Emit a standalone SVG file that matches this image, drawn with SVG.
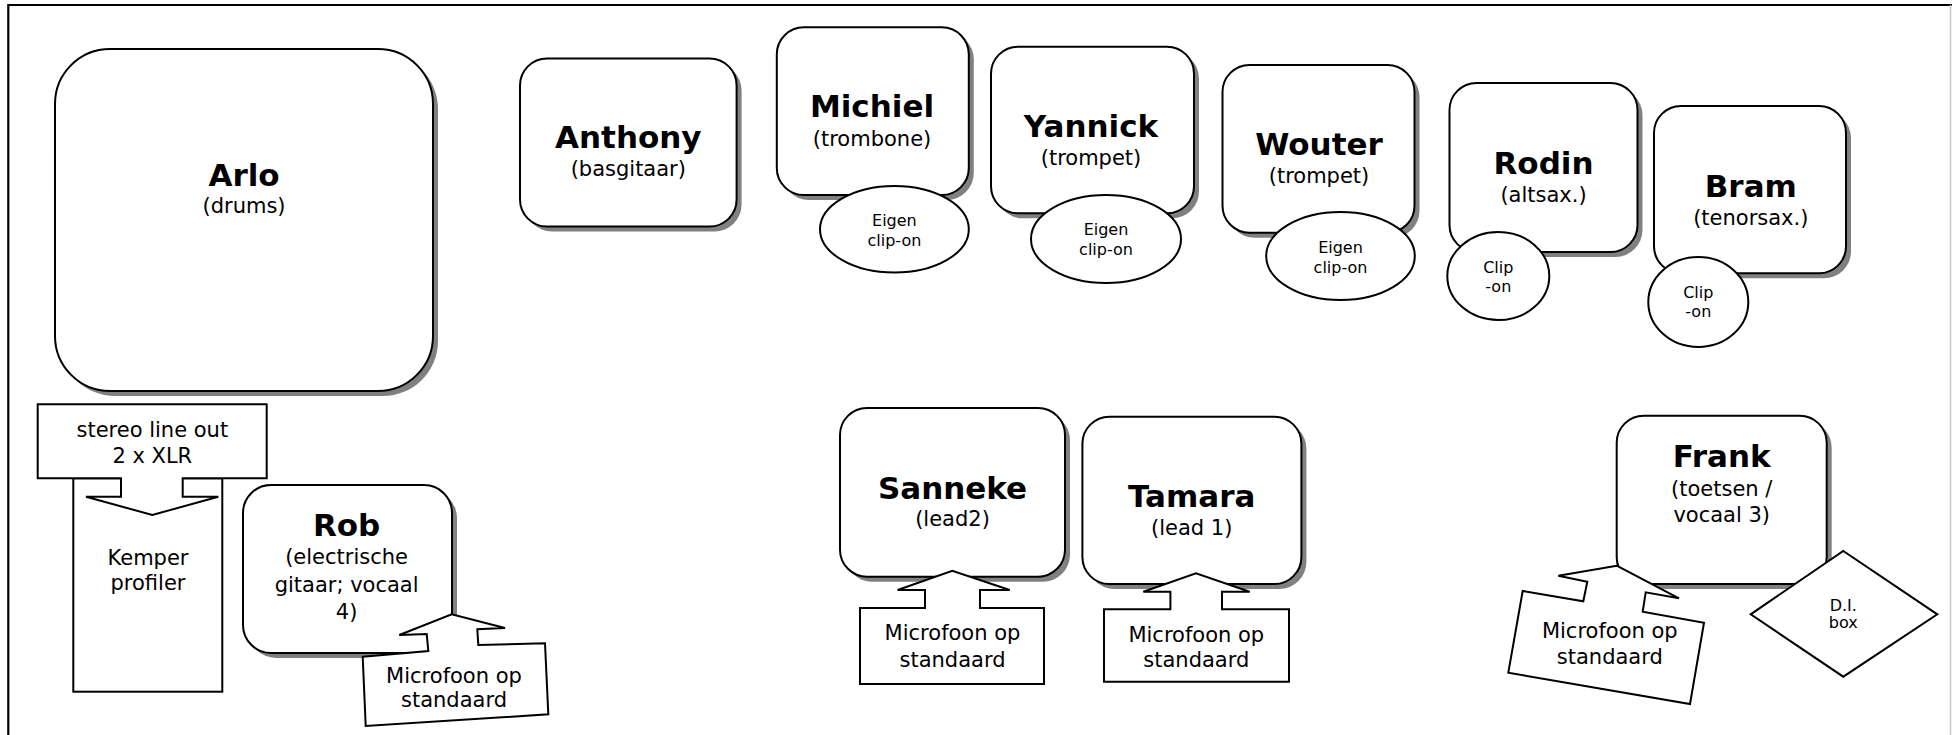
<svg xmlns="http://www.w3.org/2000/svg" width="1952" height="735" viewBox="0 0 1952 735">
<style>
.box{fill:#fff;stroke:#000;stroke-width:2}
.sh{fill:#808080}
.co{fill:#fff;stroke:#000;stroke-width:2;stroke-linejoin:miter}
.nm{font-family:"DejaVu Sans",Verdana,sans-serif;font-weight:bold;font-size:31px;text-anchor:middle;fill:#000}
.rg{font-family:"DejaVu Sans",Verdana,sans-serif;font-size:21px;text-anchor:middle;fill:#000}
.sm{font-family:"DejaVu Sans",Verdana,sans-serif;font-size:16px;text-anchor:middle;fill:#000}
</style>
<rect width="1952" height="735" fill="#fff"/>
<g id="frame">
<path d="M8.3 740 V5 H1952" fill="none" stroke="#000" stroke-width="2.2"/>
<line x1="1950.5" y1="5" x2="1950.5" y2="735" stroke="#c8c8c8" stroke-width="1.5"/>
</g>
<g id="connectors"/>

<g id="arlo">
<rect class="sh" x="60" y="54" width="378" height="342" rx="55"/>
<rect class="box" x="55" y="49" width="378" height="342" rx="55"/>
<text class="nm" x="244" y="186">Arlo</text>
<text class="rg" x="244" y="213">(drums)</text>
</g>

<g id="kemper">
<rect class="box" x="73.3" y="478.3" width="149" height="213.4"/>
<text class="rg" x="148" y="565">Kemper</text>
<text class="rg" x="148" y="590">profiler</text>
</g>
<g id="stereo-out">
<polygon class="co" points="37.7,404.3 266.7,404.3 266.7,478.3 182.7,478.3 182.7,496.7 218.3,496.7 152.3,515 86,496.7 121,496.7 121,478.3 37.7,478.3"/>
<text class="rg" x="152.3" y="436.7">stereo line out</text>
<text class="rg" x="152.3" y="463.3">2 x XLR</text>
</g>

<g id="rob">
<rect class="sh" x="248" y="490" width="209" height="168" rx="28"/>
<rect class="box" x="243" y="485" width="209" height="168" rx="28"/>
<text class="nm" x="346.6" y="536">Rob</text>
<text class="rg" x="346.6" y="564">(electrische</text>
<text class="rg" x="346.6" y="591.5">gitaar; vocaal</text>
<text class="rg" x="346.6" y="619">4)</text>
</g>
<g id="rob-mic">
<polygon class="co" points="362.7,656.7 428.3,651 426.7,634 399.3,635 451.7,614.3 505,628 477.3,629.3 478.3,645 545,643.3 548.3,714.3 365.7,726"/>
<text class="rg" x="454" y="683.3">Microfoon op</text>
<text class="rg" x="454" y="707">standaard</text>
</g>

<g id="anthony">
<rect class="sh" x="525" y="63.5" width="216.6" height="168" rx="27"/>
<rect class="box" x="520" y="58.5" width="216.6" height="168" rx="27"/>
<text class="nm" x="628.3" y="147.7">Anthony</text>
<text class="rg" x="628.3" y="175.7">(basgitaar)</text>
</g>

<g id="michiel">
<rect class="sh" x="781.8" y="32.3" width="192" height="167.7" rx="27"/>
<rect class="box" x="776.8" y="27.3" width="192" height="167.7" rx="27"/>
<text class="nm" x="872" y="117.3">Michiel</text>
<text class="rg" x="872" y="146">(trombone)</text>
</g>
<g id="michiel-clip">
<ellipse class="box" cx="894.4" cy="229.3" rx="74.4" ry="43.3"/>
<text class="sm" x="894.4" y="226">Eigen</text>
<text class="sm" x="894.4" y="245.5">clip-on</text>
</g>

<g id="yannick">
<rect class="sh" x="996" y="51.7" width="203" height="166.6" rx="27"/>
<rect class="box" x="991" y="46.7" width="203" height="166.6" rx="27"/>
<text class="nm" x="1091" y="136.7">Yannick</text>
<text class="rg" x="1091" y="165">(trompet)</text>
</g>
<g id="yannick-clip">
<ellipse class="box" cx="1106" cy="239" rx="75" ry="44"/>
<text class="sm" x="1106" y="235">Eigen</text>
<text class="sm" x="1106" y="254.5">clip-on</text>
</g>

<g id="wouter">
<rect class="sh" x="1227.5" y="70" width="192" height="167.7" rx="27"/>
<rect class="box" x="1222.5" y="65" width="192" height="167.7" rx="27"/>
<text class="nm" x="1319" y="155">Wouter</text>
<text class="rg" x="1319" y="183.3">(trompet)</text>
</g>
<g id="wouter-clip">
<ellipse class="box" cx="1340.5" cy="256" rx="74.3" ry="44"/>
<text class="sm" x="1340.5" y="253.3">Eigen</text>
<text class="sm" x="1340.5" y="272.5">clip-on</text>
</g>

<g id="rodin">
<rect class="sh" x="1454.5" y="88" width="188" height="169" rx="27"/>
<rect class="box" x="1449.5" y="83" width="188" height="169" rx="27"/>
<text class="nm" x="1543.5" y="174">Rodin</text>
<text class="rg" x="1543.5" y="201.7">(altsax.)</text>
</g>
<g id="rodin-clip">
<ellipse class="box" cx="1498.3" cy="276" rx="51" ry="44"/>
<text class="sm" x="1498.3" y="273.3">Clip</text>
<text class="sm" x="1498.3" y="291.7">-on</text>
</g>

<g id="bram">
<rect class="sh" x="1659" y="111" width="192" height="167.3" rx="27"/>
<rect class="box" x="1654" y="106" width="192" height="167.3" rx="27"/>
<text class="nm" x="1750.8" y="196.7">Bram</text>
<text class="rg" x="1750.8" y="225">(tenorsax.)</text>
</g>
<g id="bram-clip">
<ellipse class="box" cx="1698.3" cy="302" rx="50" ry="45"/>
<text class="sm" x="1698.3" y="298.3">Clip</text>
<text class="sm" x="1698.3" y="316.7">-on</text>
</g>

<g id="sanneke">
<rect class="sh" x="845" y="413" width="225" height="168.7" rx="27"/>
<rect class="box" x="840" y="408" width="225" height="168.7" rx="27"/>
<text class="nm" x="952.5" y="499">Sanneke</text>
<text class="rg" x="952.5" y="526">(lead2)</text>
</g>
<g id="sanneke-mic">
<polygon class="co" points="860,608 925,608 925,590 897.6,590 952.3,570.7 1009.7,590 980,590 980,608 1044,608 1044,684 860,684"/>
<text class="rg" x="952.5" y="640">Microfoon op</text>
<text class="rg" x="952.5" y="666.7">standaard</text>
</g>

<g id="tamara">
<rect class="sh" x="1087.4" y="421.7" width="219" height="167.3" rx="27"/>
<rect class="box" x="1082.4" y="416.7" width="219" height="167.3" rx="27"/>
<text class="nm" x="1191.7" y="506.7">Tamara</text>
<text class="rg" x="1191.7" y="534.5">(lead 1)</text>
</g>
<g id="tamara-mic">
<polygon class="co" points="1104,609.3 1170.4,609.3 1170.4,591.7 1143.3,591.7 1196,573.3 1249.7,591.7 1222,591.7 1222,609.3 1289,609.3 1289,681.7 1104,681.7"/>
<text class="rg" x="1196.3" y="641.7">Microfoon op</text>
<text class="rg" x="1196.3" y="667.3">standaard</text>
</g>

<g id="frank">
<rect class="sh" x="1621.7" y="420.7" width="210" height="168.3" rx="27"/>
<rect class="box" x="1616.7" y="415.7" width="210" height="168.3" rx="27"/>
<text class="nm" x="1721.7" y="466.7">Frank</text>
<text class="rg" x="1721.7" y="495.7">(toetsen /</text>
<text class="rg" x="1721.7" y="521.7">vocaal 3)</text>
</g>
<g id="frank-mic">
<polygon class="co" points="1616.7,565.7 1679,598.3 1645.7,592.3 1642.7,611.7 1704,622.7 1690,704 1508.3,672.7 1522.7,591 1583.3,601.3 1587.3,581.7 1558.3,575.7"/>
<text class="rg" x="1609.8" y="638.3">Microfoon op</text>
<text class="rg" x="1609.8" y="664">standaard</text>
</g>
<g id="di-box">
<polygon class="co" points="1843.3,551 1937.3,614.3 1843.3,676.7 1750.7,614.3"/>
<text class="sm" x="1843.3" y="610.7">D.I.</text>
<text class="sm" x="1843.3" y="628.3">box</text>
</g>
</svg>
